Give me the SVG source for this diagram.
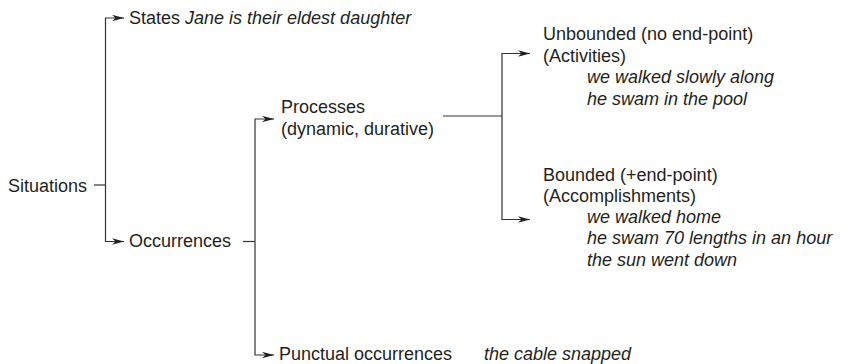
<svg xmlns="http://www.w3.org/2000/svg" width="841" height="364" viewBox="0 0 841 364">
<style>
  text { font-family: "Liberation Sans", Arial, sans-serif; font-size: 18px; fill: #231f20; }
  .it { font-style: italic; }
  .ln { fill: none; stroke: #333; stroke-width: 1.2; }
  .ar { marker-end: url(#ah); }
</style>
<defs>
  <marker id="ah" viewBox="0 0 12 6.4" refX="12" refY="3.2" markerWidth="12" markerHeight="6.4" markerUnits="userSpaceOnUse" orient="auto">
    <path d="M0,0 L12,3.2 L0,6.4 L3.5,3.2 Z" fill="#231f20"/>
  </marker>
</defs>
<rect width="841" height="364" fill="#fff"/>
<g id="connectors">
  <path class="ln" d="M94,185 H105.5"/>
  <path class="ln ar" d="M105.5,185 V18 H124"/>
  <path class="ln ar" d="M105.5,185 V241.5 H124"/>
  <path class="ln" d="M243,241.5 H255"/>
  <path class="ln ar" d="M255,241.5 V119 H274"/>
  <path class="ln ar" d="M255,241.5 V355 H274"/>
  <path class="ln" d="M443,116 H502"/>
  <path class="ln ar" d="M502,116 V53.5 H530"/>
  <path class="ln ar" d="M502,116 V219.5 H530"/>
</g>
<g id="situations"><text x="8" y="191.5">Situations</text></g>
<g id="states"><text x="129" y="24">States <tspan class="it">Jane is their eldest daughter</tspan></text></g>
<g id="occurrences"><text x="129" y="247">Occurrences</text></g>
<g id="processes">
  <text x="281" y="113">Processes</text>
  <text x="281" y="135">(dynamic, durative)</text>
</g>
<g id="punctual">
  <text x="279" y="360">Punctual occurrences</text>
  <text class="it" x="484" y="360">the cable snapped</text>
</g>
<g id="unbounded">
  <text x="543" y="40">Unbounded (no end-point)</text>
  <text x="543" y="61.5">(Activities)</text>
  <text class="it" x="587" y="83">we walked slowly along</text>
  <text class="it" x="587" y="104.5">he swam in the pool</text>
</g>
<g id="bounded">
  <text x="543" y="181">Bounded (+end-point)</text>
  <text x="543" y="202">(Accomplishments)</text>
  <text class="it" x="587" y="223">we walked home</text>
  <text class="it" x="587" y="244">he swam 70 lengths in an hour</text>
  <text class="it" x="587" y="265.5">the sun went down</text>
</g>
</svg>
